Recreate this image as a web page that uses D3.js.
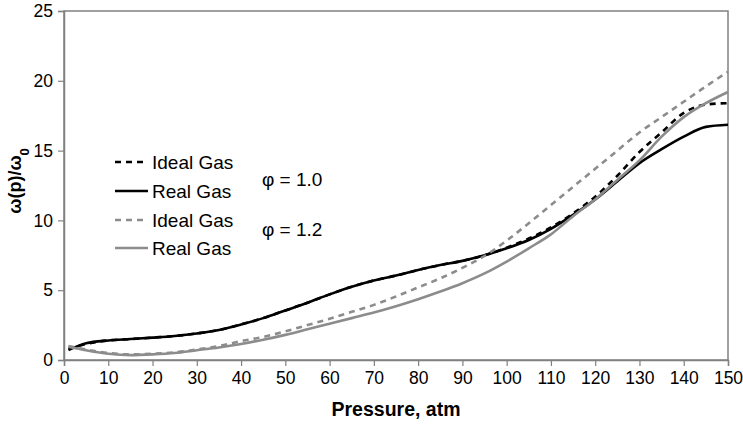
<!DOCTYPE html>
<html>
<head>
<meta charset="utf-8">
<script src="https://cdn.jsdelivr.net/npm/d3@7"></script>
<style>
  body { margin: 0; background: #fff; }
  svg { font-family: "Liberation Sans", Arial, sans-serif; }
</style>
</head>
<body>
<svg id="chart" width="743" height="433"></svg>
<script>
// pressure grid (atm)
const pressure = [1, 5, 10, 15, 20, 25, 30, 35, 40, 45, 50, 55, 60, 65, 70, 75,
  80, 85, 90, 95, 100, 105, 110, 115, 120, 125, 130, 135, 140, 145, 150];

// phi = 1.0
const idealGas10 = [0.8, 1.15, 1.4, 1.5, 1.6, 1.72, 1.9, 2.15, 2.55, 3.0, 3.55, 4.1, 4.7, 5.25, 5.7, 6.05,
  6.45, 6.8, 7.1, 7.5, 8.05, 8.7, 9.5, 10.5, 11.7, 13.2, 14.9, 16.3, 17.7, 18.3, 18.4];
const realGas10 = [0.72, 1.2, 1.4, 1.5, 1.6, 1.72, 1.9, 2.15, 2.55, 3.0, 3.55, 4.1, 4.7, 5.25, 5.7, 6.05,
  6.45, 6.8, 7.1, 7.5, 8.0, 8.6, 9.4, 10.4, 11.5, 12.8, 14.1, 15.1, 16.0, 16.7, 16.85];

// phi = 1.2
const idealGas12 = [1.0, 0.75, 0.5, 0.4, 0.45, 0.55, 0.75, 1.0, 1.35, 1.65, 2.05, 2.5, 2.95, 3.45, 3.95, 4.55,
  5.2, 5.85, 6.6, 7.45, 8.55, 9.8, 11.1, 12.4, 13.7, 15.0, 16.3, 17.4, 18.5, 19.6, 20.65];
const realGas12 = [0.95, 0.7, 0.45, 0.35, 0.4, 0.5, 0.7, 0.9, 1.15, 1.45, 1.8, 2.2, 2.6, 3.0, 3.4, 3.85,
  4.35, 4.9, 5.5, 6.2, 7.05, 8.0, 9.0, 10.3, 11.5, 12.9, 14.3, 16.0, 17.4, 18.4, 19.2];

const xTicks = d3.range(0, 151, 10);
const yTicks = [0, 5, 10, 15, 20, 25];

const series = [
  { name: 'Ideal Gas', values: idealGas10, color: '#000', dash: '6,5', width: 2.6 },
  { name: 'Real Gas', values: realGas10, color: '#000', dash: null, width: 2.6 },
  { name: 'Ideal Gas', values: idealGas12, color: '#8c8c8c', dash: '6,5', width: 2.6 },
  { name: 'Real Gas', values: realGas12, color: '#8c8c8c', dash: null, width: 2.6 },
];

const margin = { top: 11, right: 15, bottom: 73, left: 64 };
const width = 743, height = 433;

const svg = d3.select('#chart');

const x = d3.scaleLinear().domain([0, 150]).range([margin.left, width - margin.right]);
const y = d3.scaleLinear().domain([0, 25]).range([height - margin.bottom, margin.top]);

// plot border
svg.append('rect')
  .attr('x', x(0)).attr('y', y(25))
  .attr('width', x(150) - x(0)).attr('height', y(0) - y(25))
  .attr('fill', 'none').attr('stroke', '#808080').attr('stroke-width', 1.5);

// axes
const xAxis = svg.append('g')
  .attr('transform', `translate(0,${y(0)})`)
  .call(d3.axisBottom(x).tickValues(xTicks).tickSize(6).tickPadding(6));
const yAxis = svg.append('g')
  .attr('transform', `translate(${x(0)},0)`)
  .call(d3.axisLeft(y).tickValues(yTicks).tickSize(6).tickPadding(5));

[xAxis, yAxis].forEach(g => {
  g.select('.domain').attr('stroke', '#808080').attr('stroke-width', 1.5);
  g.selectAll('.tick line').attr('stroke', '#808080').attr('stroke-width', 1.2);
  g.selectAll('.tick text')
    .attr('fill', '#000')
    .style('font-size', '17.5px')
    .style('font-family', '"Liberation Sans", Arial, sans-serif');
});

// lines
const line = d3.line()
  .x((d, i) => x(pressure[i]))
  .y(d => y(d))
  .curve(d3.curveMonotoneX);

svg.append('g').selectAll('path')
  .data(series)
  .join('path')
  .attr('d', d => line(d.values))
  .attr('fill', 'none')
  .attr('stroke', d => d.color)
  .attr('stroke-width', d => d.width)
  .attr('stroke-dasharray', d => d.dash);

// axis titles
svg.append('text')
  .attr('x', (x(0) + x(150)) / 2)
  .attr('y', 416)
  .attr('text-anchor', 'middle')
  .style('font-size', '19.5px')
  .style('font-weight', 'bold')
  .text('Pressure, atm');

const yTitle = svg.append('text')
  .attr('transform', 'translate(21,181) rotate(-90)')
  .attr('text-anchor', 'middle')
  .style('font-size', '18px')
  .style('font-weight', 'bold');
yTitle.append('tspan').text('ω(p)/ω');
yTitle.append('tspan').attr('baseline-shift', 'sub').style('font-size', '13px').text('0');

// legend
const legendRows = [162, 191, 220, 248];
const legend = svg.append('g');
series.forEach((s, i) => {
  legend.append('line')
    .attr('x1', 115).attr('x2', 148)
    .attr('y1', legendRows[i]).attr('y2', legendRows[i])
    .attr('stroke', s.color)
    .attr('stroke-width', s.width)
    .attr('stroke-dasharray', s.dash);
  legend.append('text')
    .attr('x', 152).attr('y', legendRows[i])
    .attr('dy', '0.35em')
    .style('font-size', '19px')
    .text(s.name);
});

const phiLabels = ['φ = 1.0', 'φ = 1.2'];
const phiRows = [179, 229];
phiLabels.forEach((t, i) => {
  svg.append('text')
    .attr('x', 262).attr('y', phiRows[i])
    .attr('dy', '0.35em')
    .style('font-size', '19px')
    .text(t);
});
</script>
</body>
</html>
